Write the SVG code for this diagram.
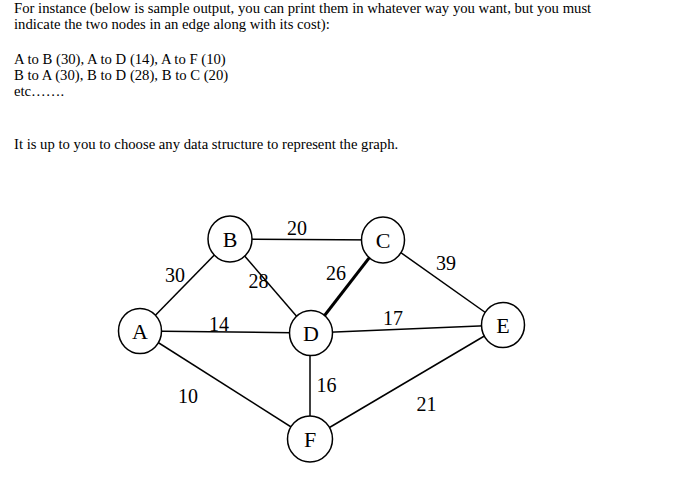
<svg xmlns="http://www.w3.org/2000/svg" width="692" height="480" viewBox="0 0 692 480">
<style>
.t{font-family:"Liberation Serif","Times New Roman",serif;font-size:14.7px;fill:#000}
.n{fill:#fff;stroke:#000;stroke-width:1.5}
.nl{font-family:"Liberation Serif","Times New Roman",serif;font-size:22px;fill:#000;text-anchor:middle}
.el{font-family:"Liberation Serif","Times New Roman",serif;font-size:20px;fill:#000;text-anchor:middle}
.e{stroke:#000;stroke-width:1.5;fill:none}
.thick{stroke-width:3}
</style>
<rect width="692" height="480" fill="#fff"/>
<g id="text">
<text class="t" x="14" y="13">For instance (below is sample output, you can print them in whatever way you want, but you must</text>
<text class="t" x="14" y="29">indicate the two nodes in an edge along with its cost):</text>
<text class="t" x="14" y="64">A to B (30), A to D (14), A to F (10)</text>
<text class="t" x="14" y="80">B to A (30), B to D (28), B to C (20)</text>
<text class="t" x="14" y="96">etc…….</text>
<text class="t" x="14" y="149">It is up to you to choose any data structure to represent the graph.</text>
</g>
<g id="connectors">
<line class="e" x1="230" y1="239" x2="383" y2="240"/>
<line class="e" x1="140" y1="331" x2="230" y2="239"/>
<line class="e" x1="230" y1="239" x2="311" y2="333"/>
<line class="e thick" x1="383" y1="240" x2="311" y2="333"/>
<line class="e" x1="383" y1="240" x2="503" y2="325"/>
<line class="e" x1="140" y1="331" x2="311" y2="333"/>
<line class="e" x1="311" y1="333" x2="503" y2="325"/>
<line class="e" x1="140" y1="331" x2="310" y2="439"/>
<line class="e" x1="310" y1="333" x2="310" y2="439"/>
<line class="e" x1="503" y1="325" x2="310" y2="439"/>
<text class="el" x="297" y="235">20</text>
<text class="el" x="175" y="282">30</text>
<text class="el" x="258.5" y="288">28</text>
<text class="el" x="336" y="280">26</text>
<text class="el" x="446" y="270">39</text>
<text class="el" x="219" y="331">14</text>
<text class="el" x="393" y="325">17</text>
<text class="el" x="188" y="403">10</text>
<text class="el" x="326.5" y="392">16</text>
<text class="el" x="426.5" y="411">21</text>
</g>
<g id="A"><ellipse class="n" cx="140" cy="331" rx="21.5" ry="22.5"/><text class="nl" x="140" y="339">A</text></g>
<g id="B"><ellipse class="n" cx="230" cy="239" rx="22" ry="23"/><text class="nl" x="230" y="247">B</text></g>
<g id="C"><ellipse class="n" cx="383" cy="240" rx="21.5" ry="23"/><text class="nl" x="383" y="248">C</text></g>
<g id="D"><ellipse class="n" cx="311" cy="333" rx="21.5" ry="22.5"/><text class="nl" x="311" y="341">D</text></g>
<g id="E"><ellipse class="n" cx="503" cy="325" rx="21.5" ry="22.5"/><text class="nl" x="503" y="333">E</text></g>
<g id="F"><ellipse class="n" cx="310" cy="439" rx="22.5" ry="23"/><text class="nl" x="310" y="447">F</text></g>
</svg>
